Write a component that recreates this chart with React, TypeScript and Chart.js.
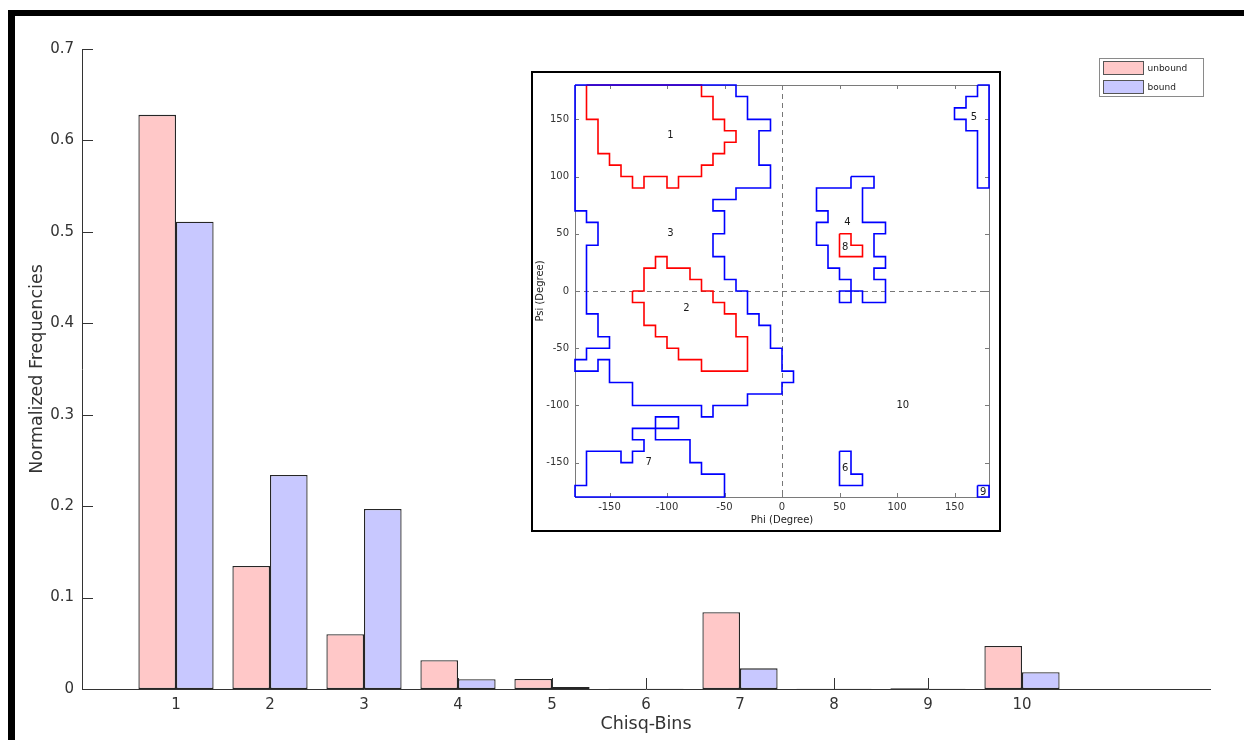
import React, { useEffect, useRef } from "react";
import { Chart, registerables } from "chart.js";

Chart.register(...registerables);

// ---------- main histogram data ----------
const bins = [1, 2, 3, 4, 5, 6, 7, 8, 9, 10];
const unbound = [0.628, 0.1345, 0.06, 0.0314, 0.011, 0.0004, 0.084, 0.0003, 0.0007, 0.047];
const bound = [0.511, 0.234, 0.197, 0.0106, 0.0022, 0.0002, 0.0226, 0.0002, 0.0004, 0.0183];
const seriesNames = ["unbound", "bound"];
const yTicks = [0, 0.1, 0.2, 0.3, 0.4, 0.5, 0.6, 0.7];
const xTitle = "Chisq-Bins";
const yTitle = "Normalized Frequencies";

// ---------- inset (Ramachandran regions) data ----------
const phiTicks = [-150, -100, -50, 0, 50, 100, 150];
const psiTicks = [-150, -100, -50, 0, 50, 100, 150];

const region1Unbound: [number, number][] = [
  [-170, 180], [-170, 150], [-160, 150], [-160, 120], [-150, 120], [-150, 110], [-140, 110], [-140, 100],
  [-130, 100], [-130, 90], [-120, 90], [-120, 100], [-100, 100], [-100, 90], [-90, 90], [-90, 100],
  [-70, 100], [-70, 110], [-60, 110], [-60, 120], [-50, 120], [-50, 130], [-40, 130], [-40, 140],
  [-50, 140], [-50, 150], [-60, 150], [-60, 170], [-70, 170], [-70, 180],
];
const region2Unbound: [number, number][] = [
  [-130, 0], [-120, 0], [-120, 20], [-110, 20], [-110, 30], [-100, 30], [-100, 20], [-80, 20],
  [-80, 10], [-70, 10], [-70, 0], [-60, 0], [-60, -10], [-50, -10], [-50, -20], [-40, -20],
  [-40, -40], [-30, -40], [-30, -70], [-70, -70], [-70, -60], [-90, -60], [-90, -50], [-100, -50],
  [-100, -40], [-110, -40], [-110, -30], [-120, -30], [-120, -10], [-130, -10],
];
const region8Unbound: [number, number][] = [
  [50, 50], [60, 50], [60, 40], [70, 40], [70, 30], [50, 30],
];
const region3Bound: [number, number][] = [
  [-180, 180], [-40, 180], [-40, 170], [-30, 170], [-30, 150], [-10, 150], [-10, 140], [-20, 140],
  [-20, 110], [-10, 110], [-10, 90], [-40, 90], [-40, 80], [-60, 80], [-60, 70], [-50, 70],
  [-50, 50], [-60, 50], [-60, 30], [-50, 30], [-50, 10], [-40, 10], [-40, 0], [-30, 0],
  [-30, -20], [-20, -20], [-20, -30], [-10, -30], [-10, -50], [0, -50], [0, -70], [10, -70],
  [10, -80], [0, -80], [0, -90], [-30, -90], [-30, -100], [-60, -100], [-60, -110], [-70, -110],
  [-70, -100], [-130, -100], [-130, -80], [-150, -80], [-150, -60], [-160, -60], [-160, -70], [-180, -70],
  [-180, -60], [-170, -60], [-170, -50], [-150, -50], [-150, -40], [-160, -40], [-160, -20], [-170, -20],
  [-170, 40], [-160, 40], [-160, 60], [-170, 60], [-170, 70], [-180, 70],
];
const region4Bound: [number, number][] = [
  [60, 100], [80, 100], [80, 90], [70, 90], [70, 60], [90, 60], [90, 50], [80, 50],
  [80, 30], [90, 30], [90, 20], [80, 20], [80, 10], [90, 10], [90, -10], [70, -10],
  [70, 0], [60, 0], [60, -10], [50, -10], [50, 0], [60, 0], [60, 10], [50, 10],
  [50, 20], [40, 20], [40, 40], [30, 40], [30, 60], [40, 60], [40, 70], [30, 70],
  [30, 90], [60, 90],
];
const region5Bound: [number, number][] = [
  [170, 180], [180, 180], [180, 90], [170, 90], [170, 140], [160, 140], [160, 150], [150, 150],
  [150, 160], [160, 160], [160, 170], [170, 170],
];
const region6Bound: [number, number][] = [
  [50, -140], [60, -140], [60, -160], [70, -160], [70, -170], [50, -170],
];
const region7Bound: [number, number][] = [
  [-180, -180], [-50, -180], [-50, -160], [-70, -160], [-70, -150], [-80, -150], [-80, -130], [-110, -130],
  [-110, -110], [-90, -110], [-90, -120], [-130, -120], [-130, -130], [-120, -130], [-120, -140], [-130, -140],
  [-130, -150], [-140, -150], [-140, -140], [-170, -140], [-170, -170], [-180, -170],
];
const region9Bound: [number, number][] = [
  [170, -170], [180, -170], [180, -180], [170, -180],
];

const regionLabels = ["1", "2", "3", "4", "5", "6", "7", "8", "9", "10"];
const regionLabelPhi = [-97, -83, -97, 57, 167, 55, -116, 55, 175, 105];
const regionLabelPsi = [136, -15, 50, 60, 152, -155, -150, 38, -176, -100];

const phiTitle = "Phi (Degree)";
const psiTitle = "Psi (Degree)";

// ---------- styles ----------
const FAMILY = "'DejaVu Sans', sans-serif";
const AXIS = "#333333";
const UNBOUND_FILL = "#ffc8c8";
const BOUND_FILL = "#c8c8ff";
const EDGE = "#262626";
const BOX = "#7a7a7a";

const closed = (pts: [number, number][]) =>
  [...pts, pts[0]].map(([x, y]) => ({ x, y }));

const mainDecor = {
  id: "mainDecor",
  beforeDatasetsDraw(chart: any) {
    const { ctx, chartArea: ca, scales } = chart;
    const x = scales.x;
    const y = scales.y;
    ctx.save();
    ctx.strokeStyle = AXIS;
    ctx.lineWidth = 1;
    ctx.beginPath();
    for (const v of bins) {
      const px = Math.round(x.getPixelForValue(v)) + 0.5;
      ctx.moveTo(px, ca.bottom);
      ctx.lineTo(px, ca.bottom - 11);
    }
    for (const v of yTicks) {
      const py = Math.round(y.getPixelForValue(v)) + 0.5;
      ctx.moveTo(ca.left, py);
      ctx.lineTo(ca.left + 11, py);
    }
    ctx.stroke();
    ctx.restore();
  },
  afterDraw(chart: any) {
    const { ctx, chartArea: ca } = chart;
    const lx = Math.round(ca.right - 111) + 0.5;
    const ly = Math.round(ca.top + 9) + 0.5;
    const lw = 104;
    const lh = 38;
    ctx.save();
    ctx.fillStyle = "#fff";
    ctx.fillRect(lx, ly, lw, lh);
    ctx.strokeStyle = "#8a8a8a";
    ctx.lineWidth = 1;
    ctx.strokeRect(lx, ly, lw, lh);
    const fills = [UNBOUND_FILL, BOUND_FILL];
    ctx.font = `9px ${FAMILY}`;
    ctx.textBaseline = "middle";
    ctx.textAlign = "left";
    seriesNames.forEach((name, i) => {
      const sy = ly + 3 + i * 19;
      ctx.fillStyle = fills[i];
      ctx.fillRect(lx + 4, sy, 40, 13);
      ctx.strokeStyle = "#555";
      ctx.strokeRect(lx + 4, sy, 40, 13);
      ctx.fillStyle = "#222";
      ctx.fillText(name, lx + 48, sy + 7);
    });
    ctx.restore();
  },
};

const insetDecor = {
  id: "insetDecor",
  beforeDatasetsDraw(chart: any) {
    const { ctx, chartArea: ca, scales } = chart;
    const x = scales.x;
    const y = scales.y;
    ctx.save();
    ctx.strokeStyle = "#777";
    ctx.lineWidth = 1;
    ctx.setLineDash([5, 4]);
    ctx.beginPath();
    const x0 = Math.round(x.getPixelForValue(0)) + 0.5;
    const y0 = Math.round(y.getPixelForValue(0)) + 0.5;
    ctx.moveTo(x0, ca.top);
    ctx.lineTo(x0, ca.bottom);
    ctx.moveTo(ca.left, y0);
    ctx.lineTo(ca.right, y0);
    ctx.stroke();
    ctx.setLineDash([]);
    ctx.strokeStyle = BOX;
    ctx.strokeRect(Math.round(ca.left) + 0.5, Math.round(ca.top) + 0.5, Math.round(ca.right - ca.left), Math.round(ca.bottom - ca.top));
    ctx.beginPath();
    for (const v of phiTicks) {
      const px = Math.round(x.getPixelForValue(v)) + 0.5;
      ctx.moveTo(px, ca.bottom);
      ctx.lineTo(px, ca.bottom - 4);
      ctx.moveTo(px, ca.top);
      ctx.lineTo(px, ca.top + 4);
    }
    for (const v of psiTicks) {
      const py = Math.round(y.getPixelForValue(v)) + 0.5;
      ctx.moveTo(ca.left, py);
      ctx.lineTo(ca.left + 4, py);
      ctx.moveTo(ca.right, py);
      ctx.lineTo(ca.right - 4, py);
    }
    ctx.stroke();
    ctx.restore();
  },
  afterDatasetsDraw(chart: any) {
    const { ctx, scales } = chart;
    ctx.save();
    ctx.fillStyle = "#1a1a1a";
    ctx.font = `10px ${FAMILY}`;
    ctx.textAlign = "center";
    ctx.textBaseline = "middle";
    regionLabels.forEach((t, i) => {
      ctx.fillText(t, scales.x.getPixelForValue(regionLabelPhi[i]), scales.y.getPixelForValue(regionLabelPsi[i]));
    });
    ctx.restore();
  },
};

function mainConfig(): any {
  const barStyle = {
    borderColor: EDGE,
    borderWidth: 1.3,
    borderSkipped: false,
    categoryPercentage: 0.8,
    barPercentage: 1,
  };
  return {
    type: "bar",
    data: {
      datasets: [
        {
          label: seriesNames[0],
          data: bins.map((b, i) => ({ x: b, y: unbound[i] })),
          backgroundColor: UNBOUND_FILL,
          ...barStyle,
        },
        {
          label: seriesNames[1],
          data: bins.map((b, i) => ({ x: b, y: bound[i] })),
          backgroundColor: BOUND_FILL,
          ...barStyle,
        },
      ],
    },
    options: {
      responsive: false,
      animation: false,
      events: [],
      layout: { padding: { left: 0, top: 33, right: 34, bottom: 0 } },
      plugins: { legend: { display: false }, tooltip: { enabled: false } },
      scales: {
        x: {
          type: "linear",
          min: 0,
          max: 12,
          offset: false,
          afterBuildTicks: (s: any) => {
            s.ticks = bins.map((v) => ({ value: v }));
          },
          afterFit: (s: any) => {
            s.height = 51;
          },
          ticks: {
            font: { family: FAMILY, size: 15 },
            color: AXIS,
            padding: 7,
            maxRotation: 0,
            autoSkip: false,
            callback: (v: any) => String(v),
          },
          grid: { display: false, drawTicks: false },
          border: { display: true, color: AXIS, width: 1 },
          title: {
            display: true,
            text: xTitle,
            font: { family: FAMILY, size: 17.5 },
            color: AXIS,
            padding: { top: 0, bottom: 5 },
          },
        },
        y: {
          type: "linear",
          min: 0,
          max: 0.7,
          afterBuildTicks: (s: any) => {
            s.ticks = yTicks.map((v) => ({ value: v }));
          },
          afterFit: (s: any) => {
            s.width = 67;
          },
          ticks: {
            font: { family: FAMILY, size: 15 },
            color: AXIS,
            padding: 8,
            callback: (v: any) => String(v),
          },
          grid: { display: false, drawTicks: false },
          border: { display: true, color: AXIS, width: 1 },
          title: {
            display: true,
            text: yTitle,
            font: { family: FAMILY, size: 17.5 },
            color: AXIS,
            padding: { top: 12, bottom: 0 },
          },
        },
      },
    },
    plugins: [mainDecor],
  };
}

function insetConfig(): any {
  const blue = "#0000ff";
  const red = "#ff0000";
  const contours: { pts: [number, number][]; color: string }[] = [
    { pts: region3Bound, color: blue },
    { pts: region4Bound, color: blue },
    { pts: region5Bound, color: blue },
    { pts: region6Bound, color: blue },
    { pts: region7Bound, color: blue },
    { pts: region9Bound, color: blue },
    { pts: region1Unbound, color: red },
    { pts: region2Unbound, color: red },
    { pts: region8Unbound, color: red },
  ];
  const tickFont = { family: FAMILY, size: 10 };
  return {
    type: "scatter",
    data: {
      datasets: contours.map((c) => ({
        data: closed(c.pts),
        showLine: true,
        borderColor: c.color,
        backgroundColor: c.color,
        borderWidth: 1.6,
        pointRadius: 0,
        tension: 0,
        clip: 6,
      })),
    },
    options: {
      responsive: false,
      animation: false,
      events: [],
      layout: { padding: { left: 0, top: 12, right: 10, bottom: 0 } },
      plugins: { legend: { display: false }, tooltip: { enabled: false } },
      scales: {
        x: {
          type: "linear",
          min: -180,
          max: 180,
          afterBuildTicks: (s: any) => {
            s.ticks = phiTicks.map((v) => ({ value: v }));
          },
          afterFit: (s: any) => {
            s.height = 33;
          },
          ticks: { font: tickFont, color: "#333", padding: 4, maxRotation: 0, autoSkip: false, callback: (v: any) => String(v) },
          grid: { display: false, drawTicks: false },
          border: { display: false },
          title: { display: true, text: phiTitle, font: tickFont, color: "#222", padding: { top: 0, bottom: 4 } },
        },
        y: {
          type: "linear",
          min: -180,
          max: 180,
          afterBuildTicks: (s: any) => {
            s.ticks = psiTicks.map((v) => ({ value: v }));
          },
          afterFit: (s: any) => {
            s.width = 42;
          },
          ticks: { font: tickFont, color: "#333", padding: 6, autoSkip: false, callback: (v: any) => String(v) },
          grid: { display: false, drawTicks: false },
          border: { display: false },
          title: { display: true, text: psiTitle, font: tickFont, color: "#222", padding: { top: 1, bottom: 0 } },
        },
      },
    },
    plugins: [insetDecor],
  };
}

export default function App() {
  const mainRef = useRef<HTMLCanvasElement>(null);
  const insetRef = useRef<HTMLCanvasElement>(null);

  useEffect(() => {
    const main = new Chart(mainRef.current as HTMLCanvasElement, mainConfig());
    const inset = new Chart(insetRef.current as HTMLCanvasElement, insetConfig());
    return () => {
      main.destroy();
      inset.destroy();
    };
  }, []);

  return (
    <div style={{ position: "fixed", left: 0, top: 0, width: 1244, height: 740, overflow: "hidden", background: "#fff" }}>
      <div
        style={{
          position: "absolute",
          left: 8,
          top: 10,
          width: 1250,
          height: 740,
          borderLeft: "7px solid #000",
          borderTop: "6px solid #000",
          boxSizing: "border-box",
        }}
      />
      <canvas ref={mainRef} width={1229} height={724} style={{ position: "absolute", left: 15, top: 16 }} />
      <div
        style={{
          position: "absolute",
          left: 531,
          top: 71,
          width: 470,
          height: 461,
          border: "2px solid #000",
          boxSizing: "border-box",
          background: "#fff",
        }}
      >
        <canvas ref={insetRef} width={466} height={457} style={{ display: "block" }} />
      </div>
    </div>
  );
}
